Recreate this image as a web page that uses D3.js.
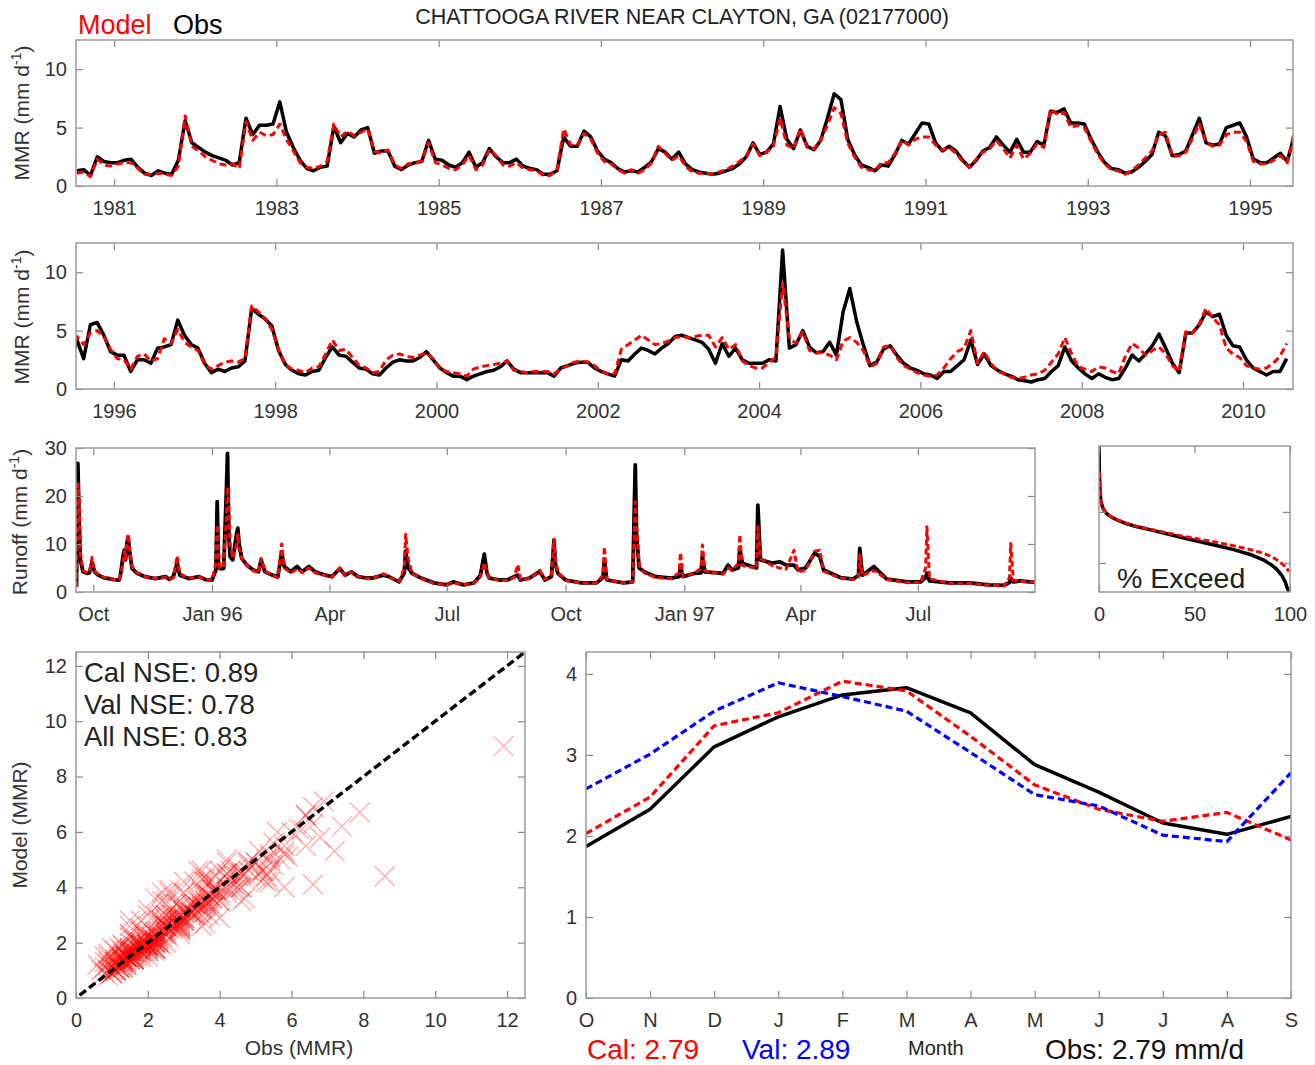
<!DOCTYPE html>
<html>
<head>
<meta charset="utf-8">
<script src="https://cdn.jsdelivr.net/npm/d3@7"></script>
<style>
  body { margin: 0; background: #fff; }
  text { font-family: "Liberation Sans", Arial, Helvetica, sans-serif; }
</style>
</head>
<body>
<svg id="chart" width="1315" height="1065"></svg>
<script>
// ---- monthly mean runoff (MMR), one value per month from Jul 1980 ----
var obsMMR = [
  1.3, 1.4, 0.9, 2.5, 2.1, 2.0, 2.0, 2.2, 2.3, 1.6,
  1.1, 0.9, 1.3, 1.1, 1.0, 2.2, 5.6, 3.7, 3.3, 2.9,
  2.6, 2.4, 2.2, 1.8, 2.0, 5.8, 4.4, 5.2, 5.2, 5.3,
  7.2, 4.6, 3.3, 2.2, 1.5, 1.3, 1.6, 1.7, 5.1, 3.7,
  4.5, 4.2, 4.8, 5.0, 2.8, 3.0, 3.0, 1.7, 1.4, 1.8,
  2.0, 2.1, 3.9, 2.3, 2.2, 1.8, 1.6, 2.0, 2.9, 1.6,
  2.0, 3.2, 2.5, 2.0, 2.0, 2.3, 1.7, 1.5, 1.4, 1.0,
  1.0, 1.3, 4.2, 3.4, 3.4, 4.7, 4.2, 3.0, 2.3, 2.0,
  1.5, 1.2, 1.3, 1.2, 1.6, 2.1, 3.2, 2.9, 2.3, 2.9,
  1.9, 1.4, 1.2, 1.1, 1.0, 1.1, 1.3, 1.5, 1.9, 2.5,
  3.7, 2.7, 2.9, 3.6, 6.8, 4.0, 3.2, 4.8, 3.4, 3.1,
  3.9, 5.8, 7.9, 7.4, 4.0, 2.7, 1.8, 1.6, 1.3, 1.8,
  1.7, 2.7, 3.9, 3.6, 4.5, 5.4, 5.3, 3.7, 3.0, 3.4,
  3.0, 2.2, 1.6, 2.2, 3.0, 3.3, 4.2, 3.5, 2.9, 4.0,
  2.9, 2.9, 3.8, 3.5, 6.4, 6.3, 6.6, 5.4, 5.4, 5.3,
  4.0, 2.9, 2.0, 1.5, 1.4, 1.1, 1.2, 1.6, 2.1, 2.7,
  4.6, 4.3, 2.6, 2.7, 3.0, 4.4, 5.8, 3.7, 3.5, 3.6,
  5.0, 5.2, 5.4, 4.2, 2.3, 2.0, 2.0, 2.4, 2.8, 2.1,
  4.2, 2.6, 5.5, 5.7, 4.6, 3.2, 2.9, 2.9, 1.5, 2.5,
  2.5, 2.2, 3.5, 3.6, 3.8, 5.9, 4.6, 3.8, 3.5, 2.2,
  1.4, 1.7, 1.5, 1.8, 1.9, 2.4, 6.9, 6.4, 6.0, 5.4,
  3.3, 2.1, 1.6, 1.3, 1.2, 1.5, 1.6, 2.7, 3.6, 2.9,
  2.8, 2.3, 1.8, 1.7, 1.3, 1.2, 1.8, 2.3, 2.5, 2.4,
  2.4, 2.7, 3.2, 2.5, 1.8, 1.4, 1.1, 1.1, 0.8, 1.1,
  1.3, 1.5, 1.6, 1.9, 2.4, 1.7, 1.4, 1.4, 1.4, 1.4,
  1.4, 1.1, 1.8, 2.0, 2.2, 2.3, 2.3, 1.8, 1.5, 1.3,
  1.1, 2.5, 2.4, 3.0, 3.5, 3.3, 3.0, 3.5, 3.9, 4.5,
  4.6, 4.4, 4.2, 4.0, 3.4, 2.2, 3.9, 2.8, 3.5, 2.5,
  2.2, 2.2, 2.2, 2.5, 2.4, 11.9, 3.5, 3.8, 5.0, 3.6,
  3.1, 3.2, 4.0, 2.9, 6.6, 8.6, 5.8, 3.8, 2.0, 2.3,
  3.4, 3.7, 2.9, 2.2, 1.8, 1.6, 1.3, 1.2, 0.9, 1.5,
  1.5, 2.0, 2.5, 4.2, 2.1, 3.0, 2.0, 1.6, 1.3, 1.1,
  0.8, 0.7, 0.6, 0.8, 0.9, 1.5, 2.0, 3.6, 2.4, 1.8,
  1.3, 0.9, 1.3, 1.0, 0.8, 0.9, 1.8, 2.9, 2.4, 3.0,
  3.7, 4.7, 3.5, 2.2, 1.4, 4.8, 4.8, 5.5, 6.6, 6.2,
  6.4, 4.6, 3.7, 3.6, 2.5, 1.8, 1.5, 1.2, 1.5, 1.5, 2.6
];
var modMMR = [
  1.1, 1.2, 0.8, 2.3, 1.8, 1.7, 1.9, 2.0, 2.0, 1.5,
  1.0, 1.0, 1.1, 1.0, 0.9, 1.7, 6.0, 3.4, 3.0, 2.5,
  2.2, 1.9, 1.8, 1.9, 1.5, 5.5, 3.9, 4.6, 4.3, 4.4,
  5.3, 4.0, 3.0, 2.0, 1.6, 1.5, 1.7, 2.1, 5.3, 4.2,
  4.7, 4.3, 4.6, 4.9, 3.0, 2.8, 3.1, 1.8, 1.5, 1.9,
  1.9, 2.2, 3.7, 2.0, 1.8, 1.5, 1.4, 1.8, 2.6, 1.4,
  1.8, 3.1, 2.6, 1.8, 1.7, 2.0, 1.5, 1.4, 1.3, 0.9,
  0.9, 1.4, 4.9, 3.5, 3.5, 4.5, 4.0, 2.8, 2.1, 1.9,
  1.4, 1.1, 1.4, 1.1, 1.4, 2.0, 3.4, 2.8, 2.2, 2.6,
  1.7, 1.2, 1.1, 1.1, 1.0, 1.2, 1.4, 1.7, 2.1, 2.6,
  3.6, 2.6, 2.9, 3.4, 5.8, 3.5, 3.2, 4.9, 3.3, 3.2,
  3.9, 5.2, 6.7, 6.2, 3.7, 2.5, 1.6, 1.4, 1.3, 2.0,
  2.0, 2.8, 3.9, 3.5, 4.0, 4.2, 4.2, 3.5, 3.1, 3.3,
  2.8, 2.1, 1.6, 2.3, 2.9, 3.2, 3.9, 3.2, 2.4, 3.5,
  2.3, 2.8, 3.6, 3.3, 6.6, 6.1, 6.3, 5.0, 5.2, 5.0,
  3.8, 2.7, 1.9, 1.4, 1.3, 1.0, 1.3, 1.8, 2.4, 3.0,
  4.4, 4.6, 2.5, 2.6, 2.9, 4.1, 5.3, 3.7, 3.4, 3.5,
  4.4, 4.6, 4.6, 3.8, 2.1, 1.9, 1.9, 2.2, 2.6, 2.0,
  4.5, 3.8, 4.8, 5.0, 4.5, 3.4, 2.6, 2.5, 1.7, 2.8,
  3.0, 2.4, 2.6, 4.3, 3.9, 5.1, 4.0, 3.6, 3.3, 2.1,
  1.7, 2.0, 2.3, 2.4, 2.3, 2.6, 7.1, 6.6, 6.0, 5.1,
  3.4, 2.1, 1.7, 1.6, 1.4, 1.8, 1.9, 3.0, 4.2, 3.3,
  3.4, 2.7, 2.0, 1.8, 1.4, 1.5, 2.5, 2.9, 3.0, 2.8,
  2.7, 2.9, 3.1, 2.6, 1.7, 1.5, 1.4, 1.3, 1.1, 1.7,
  1.9, 2.0, 2.1, 2.2, 2.4, 1.6, 1.5, 1.4, 1.5, 1.5,
  1.5, 1.3, 1.7, 2.0, 2.3, 2.4, 2.3, 2.0, 1.5, 1.3,
  1.3, 3.4, 3.8, 4.2, 4.6, 4.2, 3.8, 3.9, 4.1, 4.4,
  4.5, 4.4, 4.5, 4.6, 4.6, 3.6, 4.4, 3.4, 3.8, 2.4,
  2.0, 1.8, 1.8, 2.3, 2.7, 9.1, 4.3, 3.9, 4.9, 3.3,
  3.1, 3.1, 2.9, 2.5, 4.1, 4.4, 4.0, 3.3, 1.9, 2.2,
  3.6, 3.7, 2.7, 2.0, 1.7, 1.4, 1.2, 1.1, 1.2, 1.8,
  2.6, 3.2, 3.5, 5.0, 2.2, 3.2, 2.2, 1.5, 1.3, 1.0,
  0.9, 1.0, 1.2, 1.3, 1.6, 2.3, 3.0, 4.4, 3.0, 1.9,
  1.7, 1.5, 1.9, 1.8, 1.5, 1.3, 2.8, 3.9, 3.5, 2.9,
  3.3, 3.6, 3.0, 2.0, 1.5, 4.9, 4.8, 5.6, 6.9, 6.1,
  5.5, 3.5, 3.0, 2.7, 2.0, 1.8, 1.7, 1.8, 2.2, 2.8, 3.9
];
var firstMonth = 1980 + 6.5 / 12;   // Jul 1980, as decimal year
var years1 = [1981, 1983, 1985, 1987, 1989, 1991, 1993, 1995];
var years2 = [1996, 1998, 2000, 2002, 2004, 2006, 2008, 2010];

// ---- daily runoff, days counted from 1 Oct 1995 ----
var qDay = [-13, -12.5, -12, -11, -10, -8, -5, -3, -1, 1, 4, 8, 12, 16, 20, 21, 23, 24, 25, 26, 27, 28, 30, 34, 40, 48, 56, 59, 62, 65, 67, 74, 82, 87, 92, 95, 96, 97, 98, 101, 103, 104, 105, 106, 108, 111, 112, 113, 115, 119, 124, 128, 130, 133, 139, 143, 146, 148, 153, 158, 162, 167, 172, 180, 185, 191, 195, 200, 205, 210, 216, 225, 229, 237, 241, 242, 244, 247, 254, 264, 274, 279, 287, 295, 300, 303, 305, 307, 315, 321, 326, 329, 331, 338, 346, 350, 355, 357, 358, 360, 366, 378, 390, 395, 396, 398, 411, 418, 420, 421, 423, 427, 436, 448, 454, 455, 457, 466, 471, 472, 474, 488, 492, 495, 500, 501, 503, 514, 515, 517, 526, 532, 537, 543, 546, 552, 559, 563, 566, 579, 589, 593, 594, 596, 605, 615, 631, 641, 645, 646, 648, 663, 679, 694, 706, 710, 711, 713, 718, 730];
var qObs = [1.1, 26.8, 26.8, 15.0, 6.7, 4.2, 3.9, 4.0, 6.0, 4.2, 3.5, 3.0, 2.8, 2.6, 2.5, 3.5, 7.4, 8.7, 6.7, 10.1, 11.5, 8.7, 4.9, 3.9, 3.2, 2.8, 3.2, 2.6, 3.2, 6.0, 3.5, 2.8, 3.2, 2.6, 2.5, 4.6, 18.8, 5.5, 4.9, 4.9, 20.0, 28.9, 12.0, 7.4, 6.7, 12.0, 13.3, 10.0, 7.0, 5.6, 4.6, 4.2, 6.7, 4.2, 3.5, 3.2, 8.1, 5.3, 4.2, 5.3, 4.2, 5.3, 4.2, 3.5, 3.2, 4.9, 3.5, 4.2, 3.2, 3.0, 2.9, 3.5, 3.2, 2.1, 4.0, 8.5, 5.0, 3.9, 2.9, 1.9, 1.5, 2.1, 1.5, 1.9, 3.5, 7.9, 4.0, 2.9, 2.5, 2.5, 3.2, 3.5, 2.5, 2.9, 4.3, 2.5, 3.2, 10.8, 6.0, 3.9, 2.5, 1.9, 1.9, 3.0, 6.7, 2.5, 1.9, 2.1, 26.5, 12.0, 5.0, 4.2, 3.2, 2.9, 3.2, 5.3, 3.2, 3.9, 4.0, 7.4, 4.2, 3.9, 5.6, 4.6, 5.0, 9.1, 6.0, 5.0, 18.1, 6.7, 6.0, 6.3, 5.6, 5.6, 4.6, 5.0, 8.1, 7.4, 4.6, 3.0, 2.7, 3.5, 9.1, 3.5, 5.3, 2.7, 2.1, 2.1, 3.0, 3.9, 2.3, 1.9, 1.9, 1.5, 1.4, 2.0, 2.9, 2.1, 2.3, 2.0];
var qMod = [1.0, 12.0, 22.5, 20.0, 8.0, 4.5, 4.0, 4.2, 7.2, 4.4, 3.6, 3.1, 2.9, 2.6, 2.6, 3.6, 6.0, 8.5, 7.0, 10.5, 12.0, 9.0, 5.3, 4.0, 3.2, 2.8, 3.0, 2.6, 3.0, 7.5, 3.8, 2.9, 3.1, 2.6, 2.5, 6.0, 14.0, 9.0, 5.0, 5.5, 15.0, 21.9, 18.0, 10.0, 7.0, 10.0, 12.0, 9.0, 7.0, 5.5, 4.4, 4.0, 7.0, 4.3, 3.4, 3.0, 10.0, 5.0, 4.0, 4.8, 4.0, 5.0, 4.0, 3.4, 3.1, 5.0, 3.4, 4.2, 3.2, 2.9, 2.8, 3.8, 3.1, 2.2, 5.0, 12.0, 7.0, 3.9, 2.8, 1.8, 1.5, 2.0, 1.5, 1.8, 3.2, 6.1, 4.0, 2.9, 2.4, 2.4, 3.0, 5.7, 2.6, 2.8, 4.5, 2.6, 3.5, 11.0, 7.0, 4.0, 2.4, 1.9, 1.9, 3.5, 9.4, 2.5, 1.9, 2.1, 18.8, 14.0, 5.5, 4.0, 3.0, 2.8, 4.0, 8.2, 3.3, 3.9, 5.0, 9.8, 4.4, 3.7, 5.0, 4.5, 6.0, 11.9, 5.5, 5.0, 13.6, 7.0, 5.5, 5.0, 4.8, 8.7, 4.2, 4.5, 8.5, 8.7, 4.3, 2.9, 2.6, 3.2, 7.7, 3.4, 4.5, 2.6, 2.0, 2.0, 5.0, 13.6, 2.8, 1.8, 1.8, 1.4, 1.3, 3.0, 10.1, 2.4, 2.2, 2.1];
var qTickDays = [0, 92, 183, 274, 366, 458, 548, 639];
var qTickLbl = ['Oct', 'Jan 96', 'Apr', 'Jul', 'Oct', 'Jan 97', 'Apr', 'Jul'];

// ---- flow duration (% of days exceeded) ----
var excPct = [0, 0.2, 0.5, 1, 2, 3.1, 4.5, 6.6, 10, 13.6, 20, 27.6, 36, 45, 54, 62.5, 71, 80, 86, 90.4, 93, 95.6, 97.6, 98.3, 99.5];
var excObs = [190, 60, 27, 15.9, 12, 10.1, 8.9, 7.9, 6.8, 6.0, 5.1, 4.4, 3.7, 3.05, 2.55, 2.15, 1.8, 1.43, 1.15, 0.91, 0.76, 0.58, 0.42, 0.34, 0.27];
var excMod = [60, 55, 26, 15.5, 12, 10.1, 8.9, 7.9, 6.9, 6.1, 5.2, 4.5, 3.85, 3.28, 2.85, 2.5, 2.15, 1.8, 1.55, 1.33, 1.15, 0.98, 0.85, 0.78, 0.68];

// ---- mean monthly cycle, water year ----
var monthLbl = ['O', 'N', 'D', 'J', 'F', 'M', 'A', 'M', 'J', 'J', 'A', 'S'];
var cycObs = [1.87, 2.33, 3.10, 3.47, 3.74, 3.83, 3.52, 2.88, 2.54, 2.16, 2.02, 2.24];
var cycCal = [2.03, 2.48, 3.36, 3.52, 3.91, 3.79, 3.23, 2.63, 2.33, 2.18, 2.29, 1.95];
var cycVal = [2.58, 3.01, 3.54, 3.89, 3.72, 3.54, 3.03, 2.51, 2.37, 2.01, 1.93, 2.78];

var nseLines = ['Cal NSE: 0.89', 'Val NSE: 0.78', 'All NSE: 0.83'];

// ---------------------------------------------------------------
var svg = d3.select('#chart');
svg.append('rect').attr('width', 1315).attr('height', 1065).attr('fill', '#fff');
var FONT = '"Liberation Sans", Arial, Helvetica, sans-serif';
var clipN = 0;

function panel(x, y, w, h) {
    var g = svg.append('g').attr('transform', 'translate(' + x + ',' + y + ')');
    var id = 'clip' + (clipN++);
    g.append('clipPath').attr('id', id).append('rect').attr('width', w).attr('height', h);
    var plot = g.append('g').attr('clip-path', 'url(#' + id + ')');
    return { g: g, plot: plot, w: w, h: h };
}

function axes(p, xs, ys, xt, yt, xf, yf) {
    var g = p.g;
    var parts = [
        g.append('g').attr('transform', 'translate(0,' + p.h + ')')
            .call(d3.axisBottom(xs).tickValues(xt).tickFormat(xf).tickSize(-7).tickPadding(15)),
        g.append('g').call(d3.axisTop(xs).tickValues(xt).tickFormat('').tickSize(-7)),
        g.append('g').call(d3.axisLeft(ys).tickValues(yt).tickFormat(yf).tickSize(-7).tickPadding(9)),
        g.append('g').attr('transform', 'translate(' + p.w + ',0)')
            .call(d3.axisRight(ys).tickValues(yt).tickFormat('').tickSize(-7))
    ];
    parts.forEach(function (a) {
        a.attr('font-family', FONT).attr('font-size', 20);
        a.select('.domain').remove();
        a.selectAll('.tick line').attr('stroke', '#888').attr('stroke-width', 1.2);
        a.selectAll('.tick text').attr('fill', '#333');
    });
    g.append('rect').attr('width', p.w).attr('height', p.h)
        .attr('fill', 'none').attr('stroke', '#9a9a9a').attr('stroke-width', 1.5);
}

function yTitle(x, cy, main, sup) {
    var t = svg.append('text').attr('transform', 'translate(' + x + ',' + cy + ') rotate(-90)')
        .attr('text-anchor', 'middle').attr('font-size', 21).attr('fill', '#333').attr('dy', '0.35em');
    t.append('tspan').text(main);
    if (sup) {
        t.append('tspan').attr('font-size', 14).attr('dy', '-0.6em').text(sup);
        t.append('tspan').attr('dy', '0.45em').text(')');
    }
}

function drawLine(plot, pts, xf, yf, color, width, dash) {
    plot.append('path').datum(pts)
        .attr('fill', 'none').attr('stroke', color).attr('stroke-width', width)
        .attr('stroke-linejoin', 'round')
        .attr('stroke-dasharray', dash || null)
        .attr('d', d3.line().x(xf).y(yf));
}

var idx = d3.range(obsMMR.length);
function monthTime(i) { return firstMonth + i / 12; }

// ---- top two monthly panels ----
function monthlyPanel(top, dom, yearTicks) {
    var p = panel(76, top, 1217, 146);
    var x = d3.scaleLinear().domain(dom).range([0, p.w]);
    var y = d3.scaleLinear().domain([0, 12.5]).range([p.h, 0]);
    var xf = function (i) { return x(monthTime(i)); };
    drawLine(p.plot, idx, xf, function (i) { return y(obsMMR[i]); }, '#000', 3.5);
    drawLine(p.plot, idx, xf, function (i) { return y(modMMR[i]); }, '#ff0000', 3, '7,4');
    axes(p, x, y, yearTicks, [0, 5, 10], d3.format('d'), d3.format('d'));
    return p;
}
monthlyPanel(40, [1980.53, 1995.53], years1);
monthlyPanel(243, [1995.53, 2010.62], years2);
yTitle(22, 113, 'MMR (mm d', '-1');
yTitle(22, 317, 'MMR (mm d', '-1');

// legend + title
svg.append('text').attr('x', 78).attr('y', 34).attr('font-size', 27).attr('fill', '#ff0000').text('Model');
svg.append('text').attr('x', 173).attr('y', 34).attr('font-size', 27).attr('fill', '#000').text('Obs');
svg.append('text').attr('x', 682).attr('y', 24).attr('text-anchor', 'middle')
    .attr('font-size', 21.5).attr('fill', '#222').text('CHATTOOGA RIVER NEAR CLAYTON, GA (02177000)');

// ---- daily runoff panel ----
(function () {
    var origin = new Date(1995, 9, 1);
    var day = function (d) { return d3.timeHour.offset(origin, Math.round(d * 24)); };
    var p = panel(76, 448, 959, 144);
    var x = d3.scaleTime().domain([day(-13.4), day(729.8)]).range([0, p.w]);
    var y = d3.scaleLinear().domain([0, 30]).range([p.h, 0]);
    var k = d3.range(qDay.length);
    drawLine(p.plot, k, function (i) { return x(day(qDay[i])); }, function (i) { return y(qObs[i]); }, '#000', 3.8);
    drawLine(p.plot, k, function (i) { return x(day(qDay[i])); }, function (i) { return y(qMod[i]); }, '#ff0000', 3, '6,3');
    var tv = qTickDays.map(day);
    axes(p, x, y, tv, [0, 10, 20, 30], function (d, i) { return qTickLbl[i]; }, d3.format('d'));
    yTitle(20, 522, 'Runoff (mm d', '-1');
})();

// ---- flow duration panel ----
(function () {
    var p = panel(1099, 446, 191, 146);
    var x = d3.scaleLinear().domain([0, 100]).range([0, p.w]);
    var y = d3.scaleLog().domain([0.27, 195]).range([p.h, 0]);
    var k = d3.range(excPct.length);
    drawLine(p.plot, k, function (i) { return x(excPct[i]); }, function (i) { return y(excObs[i]); }, '#000', 3.5);
    drawLine(p.plot, k, function (i) { return x(excPct[i]); }, function (i) { return y(excMod[i]); }, '#ff0000', 3, '6,3');
    axes(p, x, y, [0, 50, 100], [1, 10], d3.format('d'), function () { return ''; });
    p.g.append('text').attr('x', 18).attr('y', 142).attr('font-size', 28.5).attr('fill', '#222').text('% Exceed');
})();

// ---- scatter obs vs model ----
(function () {
    var p = panel(76, 652, 449, 346);
    var x = d3.scaleLinear().domain([0, 12.5]).range([0, p.w]);
    var y = d3.scaleLinear().domain([0, 12.5]).range([p.h, 0]);
    var s = 10;
    p.plot.selectAll('path.mk').data(idx).enter().append('path')
        .attr('class', 'mk')
        .attr('transform', function (i) { return 'translate(' + x(obsMMR[i]) + ',' + y(modMMR[i]) + ')'; })
        .attr('d', 'M' + (-s) + ',' + (-s) + 'L' + s + ',' + s + 'M' + (-s) + ',' + s + 'L' + s + ',' + (-s))
        .attr('stroke', '#ff0000').attr('stroke-opacity', 0.33).attr('stroke-width', 1.3).attr('fill', 'none');
    drawLine(p.plot, [0.1, 12.5], function (v) { return x(v); }, function (v) { return y(v); }, '#000', 3.4, '8,4');
    var t = d3.range(0, 13, 2);
    axes(p, x, y, t, t, d3.format('d'), d3.format('d'));
    p.g.selectAll('text.nse').data(nseLines).enter().append('text')
        .attr('class', 'nse').attr('x', 8).attr('y', function (d, i) { return 30 + i * 32; })
        .attr('font-size', 27.5).attr('fill', '#222').text(function (d) { return d; });
    svg.append('text').attr('x', 299).attr('y', 1055).attr('text-anchor', 'middle')
        .attr('font-size', 21).attr('fill', '#333').text('Obs (MMR)');
    yTitle(20, 825, 'Model (MMR)');
})();

// ---- mean monthly cycle ----
(function () {
    var p = panel(586, 652, 705, 346);
    var x = d3.scaleLinear().domain([0, 11]).range([0, p.w]);
    var y = d3.scaleLinear().domain([0, 4.27]).range([p.h, 0]);
    var k = d3.range(12);
    var xf = function (i) { return x(i); };
    drawLine(p.plot, k, xf, function (i) { return y(cycObs[i]); }, '#000', 3.5);
    drawLine(p.plot, k, xf, function (i) { return y(cycCal[i]); }, '#ff0000', 3.2, '7,4');
    drawLine(p.plot, k, xf, function (i) { return y(cycVal[i]); }, '#0000ff', 3.2, '7,4');
    axes(p, x, y, k, [0, 1, 2, 3, 4], function (i) { return monthLbl[i]; }, d3.format('d'));
    var by = 1059;
    svg.append('text').attr('x', 587).attr('y', by).attr('font-size', 28).attr('fill', '#ff0000').text('Cal: 2.79');
    svg.append('text').attr('x', 742).attr('y', by).attr('font-size', 28).attr('fill', '#0000ff').text('Val: 2.89');
    svg.append('text').attr('x', 908).attr('y', 1055).attr('font-size', 20).attr('fill', '#222').text('Month');
    svg.append('text').attr('x', 1045).attr('y', by).attr('font-size', 28).attr('fill', '#111').text('Obs: 2.79 mm/d');
})();
</script>
</body>
</html>
